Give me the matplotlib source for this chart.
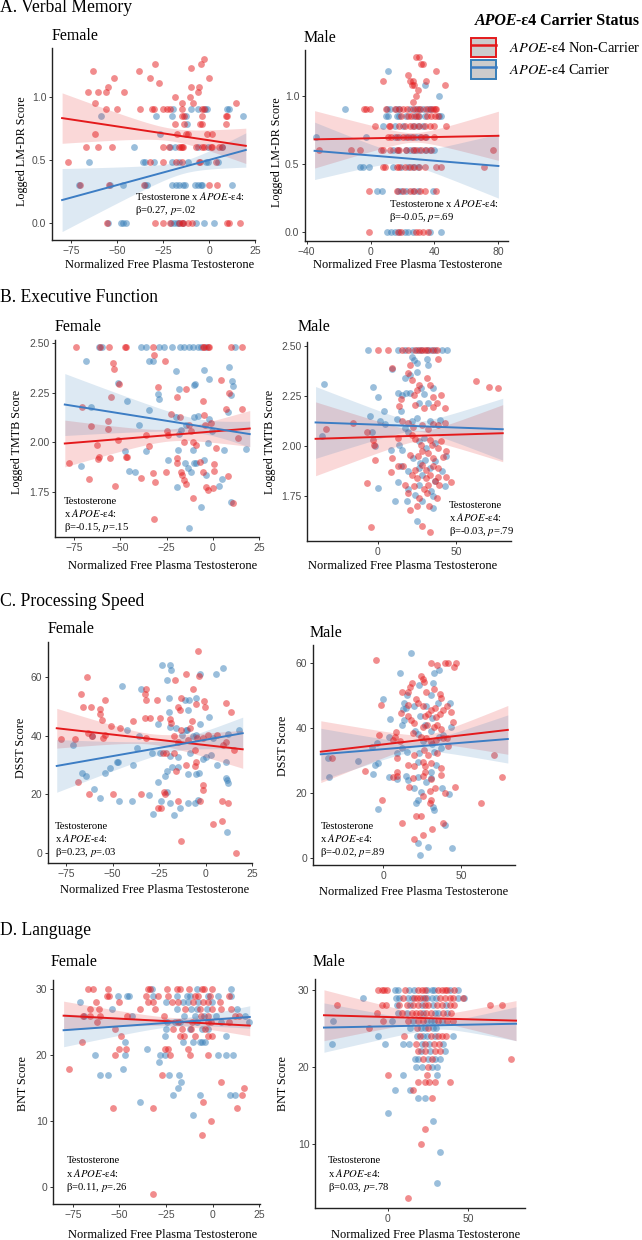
import numpy as np
import matplotlib
matplotlib.use("Agg")
import matplotlib.pyplot as plt
from matplotlib.patches import Patch
from matplotlib.lines import Line2D

plt.rcParams['font.family'] = ['Liberation Serif', 'DejaVu Serif']
plt.rcParams['mathtext.fontset'] = 'stix'

# ---------------- data ----------------
# A. Verbal memory (rows: logged score -> testosterone values)
verbal_f_nc = [(1.30, [-2.7]), (1.26, [-29.5, -4.5]), (1.23, [-10]), (1.20, [-63, -38]),
               (1.15, [-52, -32, 0]), (1.11, [-27.5]), (1.08, [-55, -9.6, -5.4]),
               (1.04, [-66, -60.6, -56, -46.5, -6]), (1.00, [-18.6, -10.5]),
               (0.95, [-62, -15, -9, 14.5]),
               (0.90, [-56, -50, -37.4, -31, -30, -25, -23, -21, -14.5, -3.6, -2.5]),
               (0.85, [-14.5, -13.5, -4, 9, 10]), (0.78, [-18.4, -13.5, -5, -4, 9]),
               (0.70, [-62, -17.7, -12.7, -11.4, -1, 1.8]),
               (0.60, [-67, -60.6, -53, -25.3, -22, -16.3, -15.4, -14.5, -14, -7.2, -4, -2.7, 1.3, 1.8, 5.4, 7.2]),
               (0.48, [-77, -32, -25.3, -18, -14.5, -5.4, -5, 4]),
               (0.30, [-70, -54.6, -35.5, 0, 4.5]),
               (0.00, [-55.7, -29.3, -25.3, -21.3, -16.6, -15, -14, -11.7, -9.4, 10, 11, 17])]
verbal_f_c = [(0.90, [-19.5, -10, -5.8, -2, -0.9, 10, 11]), (0.85, [-59, -29, -20, -12.3, 18.4]),
              (0.78, [-12]), (0.70, [-26.8]), (0.60, [-41, -21.3, -18.4, -6, -0.5, 7.2]),
              (0.48, [-65.5, -35.8, -34.7, -29.8, -20, -16.3, -11.6, -1.8, -0.4, 5]),
              (0.30, [-71, -54, -46.7, -35, -34, -20, -18.2, -16.3, -14.1, -13, -7.6, -5.8, -4.5, -3.6, 12.7]),
              (0.00, [-55.2, -48, -46.7, -45.2, -20.8, -19, -17.2, -16.6, -14.1, -6.9, -2.7, 2.7])]
verbal_m_nc = [(1.28, [28.5, 30.2]), (1.23, [31.7, 33]), (1.18, [41]), (1.15, [23.3]),
               (1.11, [8, 25, 26.5, 34.4]), (1.08, [25.8, 27.5, 46.7]), (1.04, [30]), (1.00, [28.5]),
               (0.95, [26.5]),
               (0.90, [-4.4, -2.7, -0.6, 9.4, 15, 18.1, 20.2, 22.7, 26.5, 29, 31, 34.4, 37.1, 39.2, 40.2, 41]),
               (0.85, [19.2, 23.3, 25.4, 28.3, 29.8, 35.2, 38.1, 40.2, 42.3]),
               (0.78, [3.1, 11.5, 12.3, 18.1, 21.3, 24.4, 27.5, 30.6, 33.8, 36.9, 40, 47.3]),
               (0.70, [10.8, 12.9, 16.3, 20.4, 23.5, 26.7, 31.7, 33.8, 40]),
               (0.60, [-32, -12, -6.9, 6.7, 7.7, 11.9, 16.3, 18.1, 22.3, 26.5, 28.5, 31.7, 34.8, 37.9, 76.5]),
               (0.48, [7.7, 8.8, 16.3, 18.1, 21.3, 24.4, 27.5, 30.6, 33.8, 41, 44.2, 70.8]),
               (0.30, [-1, 16.3, 20.2, 24.4, 27.5, 31, 33.8, 41]),
               (0.00, [-1, 17.1, 19.2, 28.5, 30.6, 33.1, 35.8])]
verbal_m_c = [(1.18, [10.8]), (1.08, [33.8]), (1.00, [43]),
              (0.90, [-15.8, 10.2, 11.9, 16, 17.7, 24.4, 28.1, 30.2, 33.1, 35.8, 37.9]),
              (0.85, [9.4, 10.8, 16.5, 18.1, 21.9, 27.5, 30.6, 33.8, 43, 44.2]),
              (0.78, [7.7, 15, 20.4, 26.5, 29.6, 32.7]),
              (0.70, [-34.4, -3.1, 15, 18.1, 22.3, 25.4, 28.5, 31, 34.4]),
              (0.60, [14, 17.1, 21.9, 24.4, 27.5, 30.6, 33.8, 37.1, 40]),
              (0.48, [-6.5, -4.8, -1, 14, 19.2, 23.3, 26.5, 29.6]),
              (0.30, [4.0, 7.3, 17.1, 19.2, 22.3, 26.5, 29.6, 39]),
              (0.00, [10.2, 12.9, 15, 18.1, 21.3, 23.3, 26.5, 37.3, 44.2])]

# B. Executive function (testosterone, logged TMTB)
exec_f_nc = [(-74, 2.48), (-61, 2.48), (-56, 2.48), (-47.4, 2.48), (-47, 2.48), (-32.5, 2.48),
             (-5.4, 2.48), (-4.5, 2.48), (-2.7, 2.48), (-1.8, 2.48), (10, 2.48), (16, 2.48),
             (-54, 2.40), (-53.6, 2.37), (-32, 2.44), (-25.7, 2.41),
             (-50.6, 2.295), (-29.8, 2.28), (-55, 2.23), (-19.3, 2.23), (-14.5, 2.27), (4.2, 2.315),
             (9, 2.25), (-5.4, 2.21), (-70.5, 2.18), (-22.6, 2.145), (-17.7, 2.13), (-5, 2.14),
             (6.9, 2.167), (15.7, 2.167), (-66, 2.083), (-56.4, 2.107), (-56.4, 2.07), (-36, 2.037),
             (-25, 2.06), (-24, 2.04), (-12.7, 2.087), (-11.8, 2.06), (-4, 2.09), (-0.9, 2.1),
             (-62.7, 1.987), (-61.5, 1.928), (-61.8, 1.917), (-51, 2.01), (-46.7, 1.928),
             (-34.7, 1.983), (-15.4, 2.0), (-10.8, 2.0), (-9, 1.987), (1.8, 1.97), (13.6, 2.02),
             (-77.8, 1.895), (-55.7, 1.923), (-46.3, 1.928), (-19.3, 1.923), (-19.3, 1.895),
             (-6.7, 1.9), (0.5, 1.89), (-38.9, 1.82), (-32.2, 1.845), (-31.1, 1.803), (-25.3, 1.853),
             (-17.2, 1.853), (-16.6, 1.837), (-15.4, 1.81), (-14.5, 1.79), (-5.4, 1.853), (0.9, 1.857),
             (8.5, 1.83), (-67, 1.817), (-52.8, 1.783), (-3.6, 1.778), (0, 1.773), (-2.7, 1.76),
             (-10.5, 1.72), (10.8, 1.695), (-31.6, 1.617)]
exec_f_c = [(-61.5, 2.48), (-60, 2.48), (-39, 2.48), (-36, 2.48), (-28.8, 2.48), (-26.5, 2.48),
            (-22, 2.48), (-17.7, 2.48), (-15.4, 2.48), (-12.7, 2.48), (-10.8, 2.48), (-8.1, 2.48),
            (-6.3, 2.48), (-3.6, 2.48), (11.8, 2.48),
            (-68.4, 2.408), (-34.7, 2.41), (-32.5, 2.41), (-20, 2.36), (-4.5, 2.365), (9, 2.38),
            (-51.5, 2.30), (-29.8, 2.245), (-29.3, 2.22), (-46.5, 2.21), (-18, 2.27), (-10.3, 2.29),
            (-9.6, 2.295), (-1.8, 2.32), (10.5, 2.31), (11.2, 2.285), (9.9, 2.237),
            (-66, 2.18), (-34.4, 2.165), (-19.9, 2.128), (-10.3, 2.13), (-8.1, 2.133), (-1.8, 2.117),
            (8.5, 2.153), (-39.8, 2.09), (-18.4, 2.045), (-17.2, 2.062), (-14.5, 2.087), (-0.4, 2.057),
            (-47.4, 1.957), (-36.2, 1.957), (-19, 1.962), (-10.5, 1.962), (-2.7, 1.995), (6.3, 1.962),
            (18, 1.967), (-71.4, 1.883), (-24.4, 1.912), (-14.8, 1.895), (-9, 1.895), (-4.9, 1.912),
            (-45.2, 1.857), (-42, 1.853), (-13.6, 1.87), (-11.8, 1.853), (-10, 1.895), (-3.6, 1.837),
            (5, 1.817), (-19.5, 1.778), (3.3, 1.783), (9.6, 1.703), (-6.3, 1.678), (-12.7, 1.573)]
exec_m_nc = [(0.2, 2.48), (6.7, 2.48), (15.2, 2.48), (19.5, 2.48), (23.8, 2.48), (26.4, 2.48),
             (28.5, 2.48), (30.3, 2.48), (32.4, 2.48), (35.6, 2.48), (37.8, 2.48),
             (62.9, 2.327), (71, 2.293), (76.8, 2.292), (8.8, 2.388), (20.6, 2.405), (19.5, 2.367),
             (21.7, 2.33), (38.8, 2.435), (26, 2.305), (24.9, 2.28), (31.3, 2.338), (33.5, 2.305),
             (35, 2.242), (14.8, 2.235), (23.4, 2.255), (40.6, 2.252), (43.1, 2.188), (13.5, 2.197),
             (23.8, 2.205), (29.2, 2.188), (35, 2.192), (37.8, 2.213), (-15.9, 2.113), (-33, 2.085),
             (-7.3, 2.068), (15.2, 2.122), (19.5, 2.113), (22.7, 2.092), (28.1, 2.102), (31.8, 2.085),
             (35.6, 2.108), (38.4, 2.102), (42.7, 2.113), (-3, 2.03), (-2.4, 2.005), (-2, 1.93),
             (9.2, 1.938), (13.1, 2.038), (21.7, 2.055), (23.8, 2.033), (27.7, 2.005), (33.5, 2.03),
             (34.5, 2.002), (38.8, 1.988), (40.6, 2.022), (20.6, 1.955), (25.5, 1.947), (28.5, 1.972),
             (32.4, 1.963), (35.6, 1.938), (41.4, 1.942), (43.6, 1.972), (16.3, 1.897), (23.8, 1.88),
             (28.1, 1.905), (30.7, 1.88), (35.6, 1.897), (38.8, 1.888), (8.2, 1.868), (13.1, 1.897),
             (21.7, 1.855), (24.9, 1.838), (30.7, 1.838), (33.5, 1.855), (38.8, 1.842), (43.8, 1.842),
             (-7.3, 1.813), (17.4, 1.805), (23.4, 1.797), (29.2, 1.785), (32.4, 1.805), (36.7, 1.822),
             (39.3, 1.805), (47, 1.818), (19.5, 1.763), (26.4, 1.738), (31.3, 1.763), (37.8, 1.738),
             (20.6, 1.68), (24.9, 1.697), (32.8, 1.697), (-4.5, 1.592), (28.1, 1.597), (33.5, 1.568)]
exec_m_c = [(-6.2, 2.48), (13.1, 2.48), (17.4, 2.48), (21.7, 2.48), (24.9, 2.48), (27.7, 2.48),
            (31.3, 2.48), (34.1, 2.48), (36.7, 2.48), (41, 2.48), (44.2, 2.48),
            (-34.5, 2.31), (-3, 2.293), (-0.2, 2.242), (9.2, 2.383), (21.7, 2.447), (23.2, 2.43),
            (24.9, 2.413), (20.6, 2.355), (17.4, 2.338), (31.3, 2.435), (32.4, 2.405), (24.9, 2.372),
            (27.5, 2.292), (35.6, 2.288), (29.8, 2.258), (13.1, 2.263), (15.2, 2.255), (17.8, 2.263),
            (20.6, 2.263), (14.8, 2.172), (4.1, 2.175), (26, 2.213), (32.4, 2.213), (-5.2, 2.147),
            (-35.8, 2.05), (-4.1, 2.067), (1.3, 2.125), (4.5, 2.108), (12, 2.135), (17.4, 2.088),
            (19.1, 2.068), (21.7, 2.122), (24.9, 2.138), (33.5, 2.122), (40, 2.13), (-1.9, 1.997),
            (8.4, 1.98), (13.5, 2.005), (15.2, 1.98), (26, 2.022), (29.2, 2.038), (30.7, 1.988),
            (36.7, 2.013), (22.7, 1.938), (27, 1.913), (30.3, 1.93), (36.7, 1.922), (43.6, 1.947),
            (14.8, 1.897), (19.5, 1.872), (26, 1.888), (33.5, 1.888), (41, 1.875), (28.5, 1.855),
            (36.3, 1.822), (-0.2, 1.788), (12.7, 1.818), (19.5, 1.785), (26, 1.805), (34.1, 1.772),
            (43.1, 1.797), (23.8, 1.755), (35, 1.747), (10.9, 1.725), (18.5, 1.722), (28.1, 1.722),
            (35.6, 1.688), (24.9, 1.625)]

# C. Processing speed (testosterone, DSST)
speed_f_nc = [(-4, 69), (-63.9, 60.1), (-10.6, 61.3), (-3.6, 60.6), (-16.5, 59.2), (-32.2, 56.1),
              (-32.7, 54.3), (-31.8, 52.3), (-67, 54.3), (-66, 50), (-61.5, 50), (-57, 49.1),
              (-56.5, 47.4), (-55.6, 45.5), (-53.8, 52.3), (-13, 53.1), (-14.7, 50), (-13.8, 48.8),
              (-5.2, 51), (-0.9, 52), (-0.4, 50), (-6.7, 56.1), (-26, 52.1), (11, 51.2), (13.7, 48.1),
              (-19.2, 45.8), (-18.3, 44.3), (-32.7, 46), (-30, 46), (-24.6, 46), (-39, 45.1),
              (-45.9, 42.6), (-7, 45.1), (-51, 43.2), (-63, 41.1), (-61, 40), (-77.7, 39), (-70.3, 39),
              (-55.2, 39.2), (-54, 40.3), (-31.8, 39.2), (-13.3, 42), (-8.5, 42.6), (-4.5, 39.3),
              (-17, 40), (-14.7, 38), (-9.4, 38.6), (-1.3, 39.2), (1.4, 40.3), (6, 40.3), (9.5, 36.9),
              (11, 38), (15.5, 35), (-22.8, 34), (-21, 34), (-17.2, 34), (-5.8, 35.1), (-10.6, 30),
              (-5.2, 31), (-5.8, 29.8), (-16, 28.1), (-68.3, 24.1), (-1.3, 23.2), (-1.3, 21.5),
              (-62.7, 20), (-49.8, 20), (-34.9, 20), (-22.5, 20.9), (-21.9, 20), (-14.7, 17.8),
              (-3.1, 17.8), (11.9, 16.9), (8.6, 17.8), (-25.5, 15.2), (-24.2, 15.2), (3.8, 10),
              (8.6, 10.9), (-13.3, 4), (16.2, 0)]
speed_f_c = [(-23.2, 64.3), (-19.2, 64.3), (-18.7, 62.4), (-3, 61.3), (5.4, 61.1), (9.5, 63.2),
             (-20.7, 59.2), (-45, 57.1), (-34.5, 56.1), (-19.6, 53.1), (-11.2, 52.3), (-9, 52.3),
             (-9.4, 48.9), (-5.2, 52.9), (-19.6, 48.1), (2, 46.3), (-25.5, 44), (-3, 44), (-42, 42),
             (-71.4, 37), (-61, 40.1), (-35.8, 39.8), (-36.7, 36), (-19.2, 42.9), (-16, 42.6),
             (-10.6, 42), (-9.9, 42), (-4.9, 40.3), (-12.4, 40.3), (-6.7, 39.8), (4.1, 39.2),
             (12.2, 40.7), (18, 42), (-29, 34), (-24.6, 34), (-19.2, 33.1), (-14.7, 32.9), (-8.5, 34),
             (-1.6, 32.1), (0.5, 32.6), (3.2, 33.4), (-47.7, 31.2), (-46.8, 31), (-51.6, 29.1),
             (-54.3, 27.2), (6, 30), (11, 31), (-18, 29.5), (-20.7, 28), (-15, 29.5), (-66.4, 27.2),
             (-64.2, 26.1), (-39, 30), (-9.4, 26.9), (-4.9, 26.9), (-3.4, 27.2), (-22, 26.1),
             (-25.5, 24.3), (11.7, 24.9), (12.2, 24), (11, 25.7), (-60, 21.8), (-56.6, 18.9),
             (-46.6, 17.8), (-39.4, 17.8), (-30.4, 19.8), (-20.7, 20.9), (-23.7, 17.8), (-19.2, 16.9),
             (-9.4, 16.9), (-5.8, 16.9), (-4, 18), (-13.5, 15.2), (-17, 12.9), (-28.2, 13.1), (11.3, 7)]
speed_m_nc = [(-4.6, 61), (30.4, 60), (34.8, 59.3), (39.6, 60), (41.7, 60), (46.7, 60), (45.7, 58.8),
              (24.3, 56.1), (25.4, 55.1), (26.1, 54.2), (18.3, 54), (17.4, 52.8), (12.4, 51), (15.7, 51),
              (32.6, 52), (27.6, 51.3), (36.3, 50.6), (37.4, 49.2), (-1.3, 47.2), (21, 48.9), (22.2, 47.7),
              (16.1, 47.2), (25.4, 46.7), (30.4, 45.6), (33, 46.2), (38.5, 45.6), (40.7, 46.7),
              (43.5, 45.1), (27, 43.8), (29.1, 44.4), (34.1, 43.6), (36.7, 44.4), (15.7, 43.8),
              (11.3, 44.6), (17.8, 42.6), (20, 41.5), (44.6, 42), (25.4, 40.3), (28.3, 41), (32.6, 40.3),
              (34.8, 41), (37.4, 39.7), (8, 39), (7.4, 37.4), (18.9, 38.5), (-2.8, 37.9), (6.5, 36.4),
              (10.9, 36.1), (24.3, 37.4), (27.6, 36.9), (30.4, 35.9), (34.1, 36.4), (38.5, 36.9),
              (40.7, 36.9), (-32.6, 31), (8.7, 30.8), (26.5, 33.3), (29.1, 31.8), (34.8, 32.3),
              (41.7, 34.4), (19.6, 31.8), (15.7, 28.7), (19.6, 28.4), (25.4, 29.7), (27, 28.4),
              (30.4, 29.2), (37, 27.7), (9.1, 26.7), (6.5, 25.1), (9.1, 25.3), (18.9, 24.7), (25.4, 25.3),
              (30.4, 24.4), (37.4, 25.6), (27, 26.7), (46, 22), (76, 25.1), (71, 31.8), (16.7, 22),
              (29.8, 20.8), (33, 21.5), (40, 20), (-0.7, 18), (25.4, 19.2), (30.9, 17.9), (29.8, 16.9),
              (63, 17.1), (21, 13), (24.3, 13), (12, 11), (38.5, 11), (31.3, 8.9), (20, 5.8), (25.4, 7.2),
              (-11.7, 27)]
speed_m_c = [(17.8, 63.1), (35.7, 57.9), (32.6, 57.1), (10.9, 57.1), (23.3, 53.3), (32, 54),
             (15.2, 50.3), (30.4, 50.3), (0, 48.9), (13.5, 47.9), (14.6, 46.2), (13, 45.9), (19.6, 46.7),
             (27.6, 46.7), (35.2, 47.9), (42.8, 47.9), (23.9, 43.8), (31.3, 43.1), (13.5, 42.6),
             (4.3, 42.8), (12.4, 41.0), (43.5, 40.3), (27, 41), (30.4, 39.2), (38.3, 38), (20.4, 39.2),
             (22.2, 38.2), (3.7, 37.4), (25.7, 36.1), (31.3, 35.2), (35.7, 37.4), (-7, 34.2), (-4, 35.4),
             (-15.9, 30), (-35.4, 31), (-34.8, 25.1), (9.1, 32.3), (12.4, 33.8), (15.2, 32.8),
             (23.3, 32.3), (32.6, 32.8), (37.4, 33.8), (-5, 28.7), (-3.5, 29.4), (22.2, 29.5),
             (33.9, 28.7), (-6.5, 25.9), (3.7, 25.1), (8.7, 24.3), (14.6, 25.3), (15.7, 24.1),
             (22.2, 25.1), (27.6, 23.4), (30.9, 24.8), (30.4, 26.7), (19.6, 21.5), (24.3, 20.5),
             (37.8, 21.5), (42, 19.8), (-3.3, 15.1), (22.2, 17.9), (21.1, 16.9), (32, 15.9), (32.6, 14.9),
             (40, 10.3), (22.2, 4.8), (23.7, 1), (28.7, 3.6), (43.9, 3.1)]

# D. Language (rows: BNT score -> testosterone values)
lang_f_nc = [(30, [-67, -64, -56, -34.8, -33.5, -24.6, -19.3, -17.5, -12.7, -5.7, -4.8, -0.5]),
             (29, [-56.8, -55.5, -36, -29.5, -24, -9.5, -7.7, -1.4, 8.9]),
             (28, [-62.5, -50.5, -34.5, -31.8, -22, -18.4, -10.4, -5, -2.3, 3.9]),
             (27, [-65.7, -61, -39, -31, -14.8, -6.8, -0.5, 4.5, 10]),
             (26, [-69.5, -65.7, -60.4, -46, -25.9, -6.1, -2.3, 12, 14]),
             (25, [-62, -18.4, -11, -2.3, -0.9, 9]), (24, [-52.3, -21, -16.6, -11.6, -3.8]),
             (23, [-49, -17.5, -15.2, -9.5, -2.3, -0.5]), (22, [-70]),
             (21, [-50.5, -46.6, -25.5, -24.1, -13]), (20, [-52.3, -22.9, -12.1, -2.7]),
             (18, [-77.3]), (17, [-27.3]), (16, [4.5]), (15, [17]), (14, [16]), (13, [-5]),
             (12, [-53.6, -31.8, 12.9]), (10, [-0.9]), (8, [-5.5]), (-1, [-32])]
lang_f_c = [(30, [-32.3, -8.6, 9.8]), (29, [-51, -46, -45, -31.8, -19.3, -13.9, -12, -2.7, 2.7, 9.8]),
            (28, [-71, -25.2, -15.7, -13, -7.7, -0.5]), (27, [-54, -19.3, -11.3, -8.6, -3.2, 12.9]),
            (26, [-69, -43.4, -15.2, -9.5, -4.5, 2, 17.5]), (25, [-24.6, -20, -17.3, -8.6, 4.8, 19.6]),
            (24, [-24.8, -12.1, -5.5, -2.7]), (23, [-25.5, 7.5]),
            (22, [-47, -15.7, -10.7, -6.8, -5.5, -4]), (21, [-35]),
            (20, [-63, -47, -28.2, -25.5, 2.7, 7.5, 11]), (19, [-29]), (18, [-47.9]),
            (17, [-60.4, -56.3, -23.4, -17.9]), (16, [-17]), (15, [-18.4]),
            (14, [-21.4, -6.8, 9.3, 12]), (13, [-39]), (11, [-10.7])]
lang_m_nc = [(30, [-6, -3.9, -2.5, -0.8, 10.6, 19, 21, 23.1, 31.5, 33.5, 35.6, 37.1, 41.3]),
             (29, [9.6, 16.3, 17.9, 20, 23.1, 32.5, 35.6, 38.8, 40.8, 47]),
             (28, [-31.7, -4, -1.3, 7, 11.7, 15.8, 19, 23.1, 25.2, 30.4, 33.5, 38.8, 41.3, 63.7, 71]),
             (27, [-7, 8.5, 14.8, 17.5, 20.2, 23.8, 26.7, 34.2, 39.2]),
             (26, [-2.9, 12.7, 19, 21.7, 31.5, 36.9, 40.8]), (25, [-11.7, 17.9, 25.2]),
             (24, [10, 20.2, 26.7, 31.5, 33.5, 36.3]), (23, [17.5, 23.1, 28.8, 32.1]),
             (22, [19, 23.1, 29.4, 32.5]), (21, [22, 27.3, 76.7]), (20, [25.2]), (19, [-0.2, 24.2]),
             (18, [19, 23.1, 25.8, 29.4, 38.8]), (17, [15.8]), (16, [27.3]), (12, [23.1]),
             (10, [20.6]), (3, [12.7])]
lang_m_c = [(30, [4.4, 6.5, 13.3, 16.3, 24.6, 27.3, 28.8, 38.8, 44]),
            (29, [-15.8, 5, 7, 12.7, 14.8, 21.7, 24.6, 27.3, 30, 43.9, 47.5]),
            (28, [5.8, 13.8, 21, 27.9, 36.3]), (27, [6.5, 11.7, 22, 29.4, 31.5, 36.7]),
            (26, [-34.2, 2.3, 15.8, 24.2, 26.7, 28.8, 33.5]), (25, [13.8, 20.4, 23.1, 27.9, 30]),
            (24, [-6, 18, 22, 24.2, 29.4, 40.8]), (23, [-35.2, -1.9, 9.6, 13.1, 21, 25.8, 34.6]),
            (22, [20.4, 26.3, 35.6]), (21, [17, 19, 25.2, 29.4, 32.5]), (20, [17.5, 21, 27.3, 30.8]),
            (19, [9.6, 30.8]), (17, [4.4, 14]), (16, [18.5, 23.1]), (14, [-0.2]), (13, [27.9]),
            (9, [32.5]), (5, [30.8])]

# regression fits: x0, x1, y(x0), y(x1), CI half-width at x0, at x1, minimum
fit_verbal_f = {'nc': (-80, 20, 0.83, 0.61, 0.20, 0.14, 0.05), 'c': (-80, 20, 0.18, 0.577, 0.25, 0.136, 0.05)}
fit_verbal_m = {'nc': (-35, 80, 0.68, 0.706, 0.21, 0.18, 0.035), 'c': (-35, 80, 0.596, 0.485, 0.21, 0.235, 0.04)}
fit_exec_f = {'nc': (-80, 20, 1.995, 2.07, 0.117, 0.09, 0.03), 'c': (-80, 20, 2.19, 2.042, 0.155, 0.065, 0.035)}
fit_exec_m = {'nc': (-40, 80, 2.035, 2.063, 0.185, 0.143, 0.025), 'c': (-40, 80, 2.117, 2.083, 0.18, 0.155, 0.025)}
fit_speed_f = {'nc': (-80, 20, 42.6, 35.4, 6.8, 6.5, 1.8), 'c': (-80, 20, 29.7, 40.9, 9.0, 5.5, 2.0)}
fit_speed_m = {'nc': (-40, 80, 32.8, 39.5, 9.5, 7.5, 1.5), 'c': (-40, 80, 32, 36.7, 8.0, 7.4, 1.5)}
fit_lang_f = {'nc': (-80, 20, 26, 24.5, 2.2, 1.55, 0.6), 'c': (-80, 20, 23.8, 25.8, 2.5, 1.7, 0.6)}
fit_lang_m = {'nc': (-40, 80, 26.7, 26, 3.3, 2.6, 0.5), 'c': (-40, 80, 25.1, 25.6, 3.2, 2.2, 0.5)}

stats = ['β=0.27, $\\mathit{p}$=.02', 'β=-0.05, $\\mathit{p}$=.69', 'β=-0.15, $\\mathit{p}$=.15',
         'β=-0.03, $\\mathit{p}$=.79', 'β=0.23, $\\mathit{p}$=.03', 'β=-0.02, $\\mathit{p}$=.89',
         'β=0.11, $\\mathit{p}$=.26', 'β=0.03, $\\mathit{p}$=.78']

RED = '#E41A1C'
BLUE = '#377EB8'
BLUE_LINE = '#3C7DC4'
TICK_FONT = ['Liberation Sans Narrow', 'Liberation Sans', 'DejaVu Sans']

W, H = 642, 1240
fig = plt.figure(figsize=(W / 100, H / 100), dpi=100)


def ftext(x, y, s, **kw):
    return fig.text(x / W, 1 - y / H, s, **kw)


def rows_xy(rows):
    xs, ys = [], []
    for yv, xl in rows:
        xs += xl
        ys += [yv] * len(xl)
    return xs, ys


def pairs_xy(pairs):
    return [p[0] for p in pairs], [p[1] for p in pairs]


def draw_fit(ax, f, col, fill):
    x0, x1, y0, y1, h0, h1, hm = f
    a0 = np.sqrt(max(h0 ** 2 - hm ** 2, 1e-9))
    a1 = np.sqrt(max(h1 ** 2 - hm ** 2, 1e-9))
    k = (a0 + a1) / (x1 - x0)
    xm = x0 + a0 / k
    xx = np.linspace(x0, x1, 80)
    yy = y0 + (y1 - y0) * (xx - x0) / (x1 - x0)
    hw = np.sqrt(hm ** 2 + (k * (xx - xm)) ** 2)
    ax.fill_between(xx, yy - hw, yy + hw, color=fill, alpha=0.17, lw=0, zorder=3)
    ax.plot(xx, yy, color=col, lw=1.4, zorder=4)


# layout: axes box (l, t, r, b) in px, limits, ticks
panels = [
    dict(box=(52, 48, 255, 240), xlim=(-85.5, 25), ylim=(-0.137, 1.386), xt=[-75, -50, -25, 0, 25],
         yt=[0, 0.5, 1.0], yf='{:.1f}', nc=rows_xy(verbal_f_nc), c=rows_xy(verbal_f_c), fit=fit_verbal_f,
         title=('Female', 52, 40), ylab=('Logged LM-DR Score', 22, 151), xlab=(160, 267.7),
         ann=(135.2, 200, 13.3, ['Testosterone x $\\mathit{APOE}$-ε4:', stats[0]])),
    dict(box=(305, 50, 508, 241), xlim=(-41, 86), ylim=(-0.064, 1.334), xt=[-40, 0, 40, 80],
         yt=[0, 0.5, 1.0], yf='{:.1f}', nc=rows_xy(verbal_m_nc), c=rows_xy(verbal_m_c), fit=fit_verbal_m,
         title=('Male', 304, 41.7), ylab=('Logged LM-DR Score', 276.6, 152), xlab=(408, 267.7),
         ann=(389.3, 206.7, 13.3, ['Testosterone x $\\mathit{APOE}$-ε4:', stats[1]])),
    dict(box=(55, 340, 259, 537), xlim=(-85.3, 25), ylim=(1.527, 2.513), xt=[-75, -50, -25, 0, 25],
         yt=[1.75, 2.0, 2.25, 2.5], yf='{:.2f}', nc=pairs_xy(exec_f_nc), c=pairs_xy(exec_f_c), fit=fit_exec_f,
         title=('Female', 55, 330.7), ylab=('Logged TMTB Score', 17, 442), xlab=(162.5, 569.3),
         ann=(63.5, 504.3, 13, ['Testosterone', 'x $\\mathit{APOE}$-ε4:', stats[2]])),
    dict(box=(307, 342, 511, 541), xlim=(-45.5, 85.3), ylim=(1.523, 2.52), xt=[0, 50],
         yt=[1.75, 2.0, 2.25, 2.5], yf='{:.2f}', nc=pairs_xy(exec_m_nc), c=pairs_xy(exec_m_c), fit=fit_exec_m,
         title=('Male', 298, 330.7), ylab=('Logged TMTB Score', 270.5, 442), xlab=(403, 569.3),
         ann=(448.8, 508.3, 12.8, ['Testosterone', 'x $\\mathit{APOE}$-ε4:', stats[3]])),
    dict(box=(48, 642, 252, 863), xlim=(-84.7, 25), ylim=(-3.5, 72.1), xt=[-75, -50, -25, 0, 25],
         yt=[0, 20, 40, 60], yf='{:.0f}', nc=pairs_xy(speed_f_nc), c=pairs_xy(speed_f_c), fit=fit_speed_f,
         title=('Female', 48, 633.3), ylab=('DSST Score', 21.5, 748), xlab=(154.5, 893.3),
         ann=(55.3, 829, 13, ['Testosterone', 'x $\\mathit{APOE}$-ε4:', stats[4]])),
    dict(box=(313, 645, 515, 865), xlim=(-45, 84.6), ylim=(-2.05, 65.6), xt=[0, 50],
         yt=[0, 20, 40, 60], yf='{:.0f}', nc=pairs_xy(speed_m_nc), c=pairs_xy(speed_m_c), fit=fit_speed_m,
         title=('Male', 310, 636.7), ylab=('DSST Score', 283, 746), xlab=(413.7, 895),
         ann=(320.5, 829, 13, ['Testosterone', 'x $\\mathit{APOE}$-ε4:', stats[5]])),
    dict(box=(53, 980, 260, 1204), xlim=(-85.7, 25.5), ylim=(-2.5, 31.4), xt=[-75, -50, -25, 0, 25],
         yt=[0, 10, 20, 30], yf='{:.0f}', nc=rows_xy(lang_f_nc), c=rows_xy(lang_f_c), fit=fit_lang_f,
         title=('Female', 51, 966), ylab=('BNT Score', 23, 1084), xlab=(163, 1237.5),
         ann=(66.4, 1163.3, 13.5, ['Testosterone', 'x $\\mathit{APOE}$-ε4:', stats[6]])),
    dict(box=(315, 979, 525, 1208), xlim=(-45.6, 85.6), ylim=(1.7, 31.4), xt=[0, 50],
         yt=[10, 20, 30], yf='{:.0f}', nc=rows_xy(lang_m_nc), c=rows_xy(lang_m_c), fit=fit_lang_m,
         title=('Male', 313, 966), ylab=('BNT Score', 283, 1084), xlab=(425.4, 1237.5),
         ann=(327.9, 1163.3, 13.5, ['Testosterone', 'x $\\mathit{APOE}$-ε4:', stats[7]])),
]

for p in panels:
    l, t, r, b = p['box']
    ax = fig.add_axes([l / W, 1 - b / H, (r - l) / W, (b - t) / H])
    ax.set_facecolor('none')
    for s in ['top', 'right']:
        ax.spines[s].set_visible(False)
    for s in ['left', 'bottom']:
        ax.spines[s].set_linewidth(1.0)
        ax.spines[s].set_color('#222222')
    ax.scatter(p['c'][0], p['c'][1], s=24, color=BLUE, alpha=0.5, lw=0, zorder=2)
    ax.scatter(p['nc'][0], p['nc'][1], s=24, color=RED, alpha=0.5, lw=0, zorder=2)
    draw_fit(ax, p['fit']['nc'], RED, RED)
    draw_fit(ax, p['fit']['c'], BLUE_LINE, BLUE)
    ax.set_xlim(p['xlim'])
    ax.set_ylim(p['ylim'])
    ax.set_xticks(p['xt'])
    ax.set_yticks(p['yt'])
    ax.set_yticklabels([p['yf'].format(v) for v in p['yt']])
    ax.tick_params(length=2.5, width=0.7, color='#333333', labelcolor='#4D4D4D', labelsize=7.5, pad=1.5)
    for lbl in ax.get_xticklabels() + ax.get_yticklabels():
        lbl.set_fontfamily(TICK_FONT)

    name, tx, ty = p['title']
    ftext(tx, ty, name, fontsize=11.5, va='baseline', ha='left')
    lab, yx, yy = p['ylab']
    ftext(yx, yy, lab, fontsize=8.7, rotation=90, ha='center', va='center')
    ftext(p['xlab'][0], p['xlab'][1], 'Normalized Free Plasma Testosterone', fontsize=9,
          ha='center', va='baseline')
    axx, ayy, dy, lines = p['ann']
    for i, s in enumerate(lines):
        ftext(axx, ayy + i * dy, s, fontsize=7.7, ha='left', va='baseline')

# section headings
ftext(0, 12.5, 'A. Verbal Memory', fontsize=12.7, va='baseline')
ftext(0, 301.7, 'B. Executive Function', fontsize=12.7, va='baseline')
ftext(0, 606, 'C. Processing Speed', fontsize=12.7, va='baseline')
ftext(0, 935, 'D. Language', fontsize=12.7, va='baseline')

# legend title (bold, APOE in bold italic)
t1 = ftext(475, 25, 'APOE', fontsize=11.5, fontweight='bold', fontstyle='italic', va='baseline')
rend = fig.canvas.get_renderer()
bb = t1.get_window_extent(renderer=rend)
fig.text((bb.x1 - 1.5) / W, 1 - 25 / H, '-ε4 Carrier Status', fontsize=11.5, fontweight='bold', va='baseline')

handles = [(Patch(facecolor='#CCCCCC', edgecolor=RED, lw=1.4), Line2D([], [], color=RED, lw=1.8)),
           (Patch(facecolor='#CCCCCC', edgecolor=BLUE, lw=1.4), Line2D([], [], color=BLUE_LINE, lw=1.8))]
labels = ['$\\mathit{APOE}$-ε4 Non-Carrier', '$\\mathit{APOE}$-ε4 Carrier']
fig.legend(handles, labels, loc='upper left', bbox_to_anchor=(471 / W, 1 - 38 / H), frameon=False,
           fontsize=10.4, handlelength=1.75, handleheight=1.6, labelspacing=0.25, borderpad=0,
           borderaxespad=0, handletextpad=0.85)

fig.savefig('out.png', dpi=100)
